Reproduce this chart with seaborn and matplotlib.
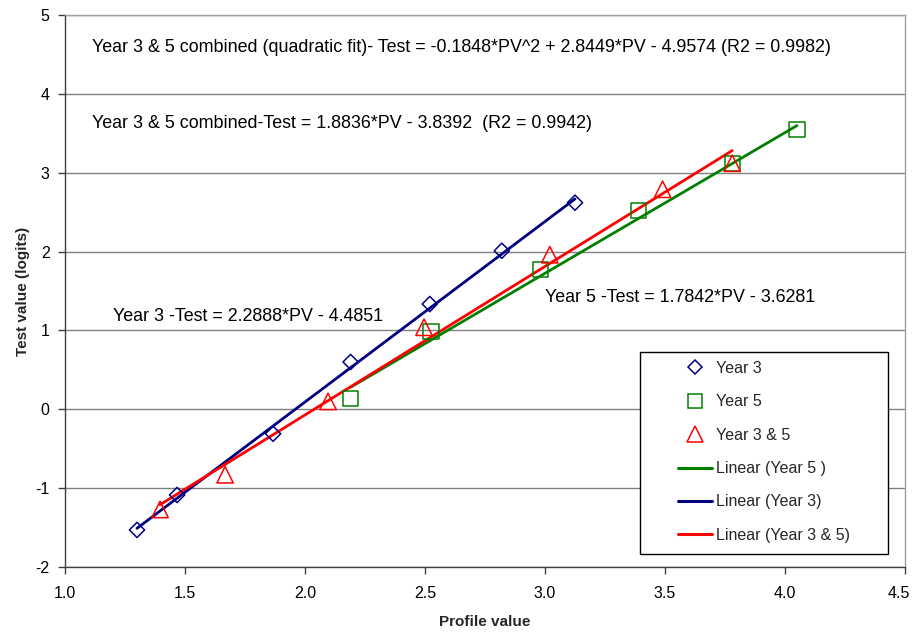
import numpy as np
import pandas as pd
import matplotlib
matplotlib.use("Agg")
import matplotlib.pyplot as plt
import matplotlib.transforms as mtransforms
import seaborn as sns
from matplotlib.lines import Line2D
from matplotlib.patches import Rectangle

# ---- data ----
y3_x = [1.30, 1.467, 1.867, 2.19, 2.52, 2.82, 3.125]
y3_y = [-1.53, -1.087, -0.31, 0.60, 1.335, 2.01, 2.62]

y5_x = [2.19, 2.525, 2.98, 3.39, 3.78, 4.05]
y5_y = [0.14, 0.99, 1.77, 2.52, 3.12, 3.55]

y35_x = [1.396, 1.667, 2.096, 2.496, 3.02, 3.49, 3.78]
y35_y = [-1.27, -0.83, 0.10, 1.04, 1.96, 2.79, 3.12]

# trend-line coefficients (slope, intercept) shown on the chart
fit_y3 = (2.2888, -4.4851)
fit_y5 = (1.7842, -3.6281)
fit_y35 = (1.8836, -3.8392)

x_ticks = [1.0, 1.5, 2.0, 2.5, 3.0, 3.5, 4.0, 4.5]
y_ticks = [-2, -1, 0, 1, 2, 3, 4, 5]

ann_texts = [
    "Year 3 & 5 combined (quadratic fit)- Test = -0.1848*PV^2 + 2.8449*PV - 4.9574 (R2 = 0.9982)",
    "Year 3 & 5 combined-Test = 1.8836*PV - 3.8392  (R2 = 0.9942)",
    "Year 3 -Test = 2.2888*PV - 4.4851",
    "Year 5 -Test = 1.7842*PV - 3.6281",
]
ann_pos = [(1.112, 4.59), (1.112, 3.63), (1.20, 1.18), (3.0, 1.42)]

legend_labels = ["Year 3", "Year 5", "Year 3 & 5", "Linear (Year 5 )",
                 "Linear (Year 3)", "Linear (Year 3 & 5)"]

NAVY, GREEN, RED = "#000080", "#008000", "#FF0000"

sns.set_theme(style="white")
plt.rcParams["font.family"] = ["Liberation Sans", "DejaVu Sans"]

W, H = 913, 632
fig = plt.figure(figsize=(W/100, H/100), dpi=100)
ax = fig.add_axes([65/W, 1-567/H, 840/W, 552/H])

# trend lines
def line_df(xs, fit):
    xr = np.array([min(xs), max(xs)])
    return pd.DataFrame({"x": xr, "y": fit[0]*xr + fit[1]})

sns.lineplot(data=line_df(y5_x, fit_y5), x="x", y="y", color=GREEN, lw=2, ax=ax)
sns.lineplot(data=line_df(y3_x, fit_y3), x="x", y="y", color=NAVY, lw=2, ax=ax)
sns.lineplot(data=line_df(y35_x, fit_y35), x="x", y="y", color=RED, lw=2, ax=ax)

# markers
sns.scatterplot(x=y3_x, y=y3_y, marker="D", s=60, facecolor="none",
                edgecolor=NAVY, linewidth=1.1, ax=ax, zorder=3)
sns.scatterplot(x=y5_x, y=y5_y, marker="s", s=120, facecolor="none",
                edgecolor=GREEN, linewidth=1.1, ax=ax, zorder=3)
sns.scatterplot(x=y35_x, y=y35_y, marker="^", s=140, facecolor="none",
                edgecolor=RED, linewidth=1.1, ax=ax, zorder=3)

ax.set_xlim(1.0, 4.5)
ax.set_ylim(-2, 5)
ax.set_xticks(x_ticks)
ax.set_xticklabels([f"{v:.1f}" for v in x_ticks])
ax.set_yticks(y_ticks)
ax.set_yticklabels([str(v) for v in y_ticks])
ax.tick_params(axis="both", labelsize=11.5, colors="black", length=5,
               direction="out", width=1, color="#404040",
               bottom=True, left=True)
ax.tick_params(axis="x", pad=9)
ax.tick_params(axis="y", pad=6)
ax.yaxis.grid(True, color="#808080", lw=1)
ax.xaxis.grid(False)
for name, sp in ax.spines.items():
    sp.set_linewidth(1)
    sp.set_color("#404040" if name in ("left", "bottom") else "#A0A0A0")

# keep the last x tick label inside the figure (as in the reference)
last = ax.get_xticklabels()[-1]
last.set_transform(last.get_transform() +
                   mtransforms.ScaledTranslation(-6/100, 0, fig.dpi_scale_trans))

ax.set_xlabel("Profile value", fontsize=11, fontweight="bold", labelpad=10)
ax.set_ylabel("Test value (logits)", fontsize=11, fontweight="bold", labelpad=4)

for t, (px, py) in zip(ann_texts, ann_pos):
    ax.text(px, py, t, fontsize=12.9, va="center", ha="left", color="black")

# legend frame
fig.patches.append(Rectangle((640/W, 1-554/H), (888-640)/W, (554-352)/H,
                             transform=fig.transFigure, facecolor="white",
                             edgecolor="black", lw=1, zorder=4))

handles = [
    Line2D([], [], ls="none", marker="D", ms=7.5, mfc="none", mec=NAVY, mew=1.1),
    Line2D([], [], ls="none", marker="s", ms=10, mfc="none", mec=GREEN, mew=1.1),
    Line2D([], [], ls="none", marker="^", ms=11, mfc="none", mec=RED, mew=1.1),
    Line2D([], [], color=GREEN, lw=2.2),
    Line2D([], [], color=NAVY, lw=2.2),
    Line2D([], [], color=RED, lw=2.2),
]
fs_leg = 11.5
fs_px = fs_leg * 100 / 72
leg = fig.legend(handles, legend_labels, loc="upper left",
                 bbox_to_anchor=(678/W, 1-361/H), bbox_transform=fig.transFigure,
                 fontsize=fs_leg, frameon=False,
                 handlelength=34/fs_px, handletextpad=4/fs_px,
                 labelspacing=1.15, borderpad=0, borderaxespad=0)
leg.set_zorder(5)

fig.savefig("out.png", dpi=100)
